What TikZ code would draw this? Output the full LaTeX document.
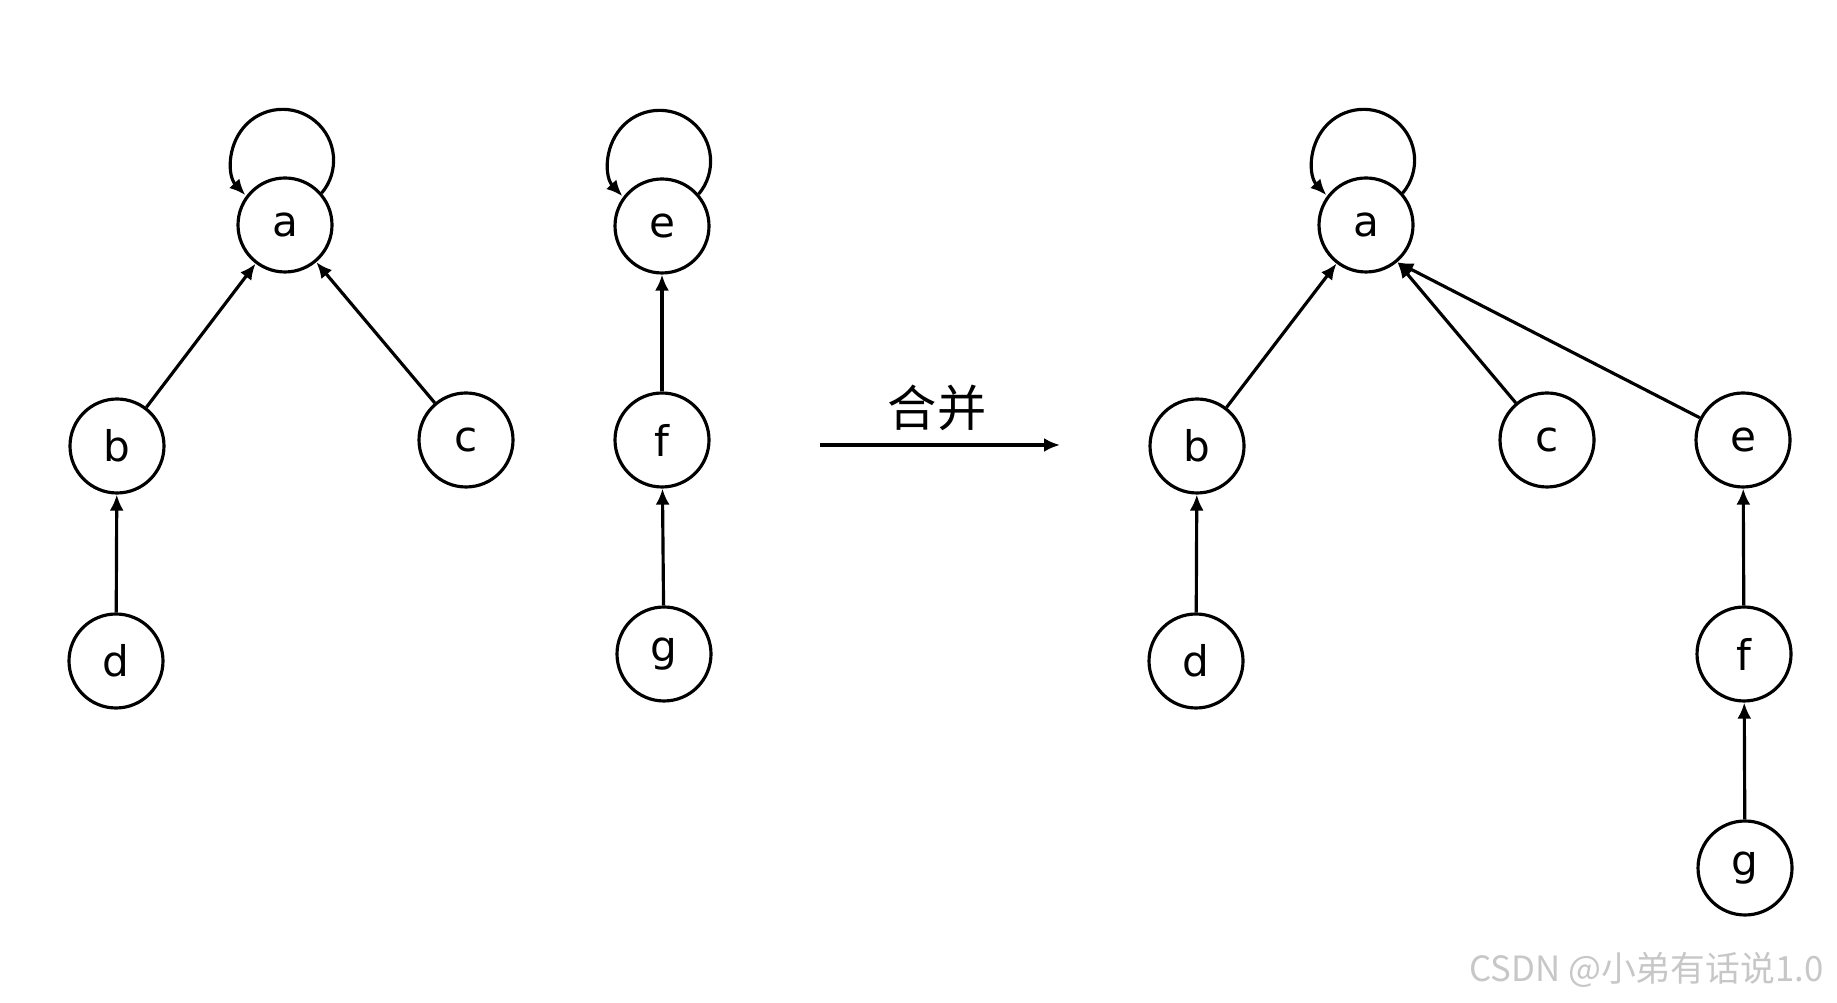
\documentclass[tikz,border=0pt]{standalone}
\usepackage{fontspec}
\setmainfont{DejaVu Sans}
\newfontfamily\cjk{Noto Sans CJK SC}
\usetikzlibrary{arrows.meta}

\tikzset{
    vert/.style = {draw, circle, line width=0.9pt, minimum size=0.94cm, inner sep=0pt, font=\fontsize{12}{14}\selectfont},
    arr/.style = {line width=0.9pt, -{Latex[length=1.6mm,width=1.4mm]}}
}

\begin{document}
\begin{tikzpicture}
    \useasboundingbox (0,0) rectangle (18.37,-10.03);

    % left: two trees
    \node[vert] (a1) at (2.85,-2.25) {a};
    \node[vert] (b1) at (1.17,-4.46) {b};
    \node[vert] (c1) at (4.66,-4.40) {c};
    \node[vert] (d1) at (1.16,-6.61) {d};
    \node[vert] (e1) at (6.62,-2.26) {e};
    \node[vert] (f1) at (6.62,-4.40) {f};
    \node[vert] (g1) at (6.64,-6.54) {g};

    \draw[arr] (a1.41) arc[start angle=-40, end angle=223, radius=0.51];
    \draw[arr] (b1) -- (a1);
    \draw[arr] (c1) -- (a1);
    \draw[arr] (d1) -- (b1);
    \draw[arr] (e1.41) arc[start angle=-40, end angle=223, radius=0.51];
    \draw[arr] (f1) -- (e1);
    \draw[arr] (g1) -- (f1);

    % merge arrow
    \coordinate (S) at (8.20,-4.45);
    \coordinate (T) at (10.60,-4.45);
    \draw[arr] (S) -- (T);
    \node[font=\cjk\fontsize{14}{16}\selectfont] (merge) at (9.37,-4.08) {合并};

    % right: merged tree
    \node[vert] (a2) at (13.66,-2.25) {a};
    \node[vert] (b2) at (11.97,-4.46) {b};
    \node[vert] (c2) at (15.47,-4.40) {c};
    \node[vert] (d2) at (11.96,-6.61) {d};
    \node[vert] (e2) at (17.43,-4.40) {e};
    \node[vert] (f2) at (17.44,-6.54) {f};
    \node[vert] (g2) at (17.45,-8.68) {g};

    \draw[arr] (a2.41) arc[start angle=-40, end angle=223, radius=0.51];
    \draw[arr] (b2) -- (a2);
    \draw[arr] (c2) -- (a2);
    \draw[arr] (d2) -- (b2);
    \draw[arr] (e2) -- (a2.-50);
    \draw[arr] (f2) -- (e2);
    \draw[arr] (g2) -- (f2);

    \node[font=\cjk\fontsize{9.9}{12}\selectfont, text=black!22, inner sep=0pt, anchor=east] (mark) at (18.24,-9.70) {CSDN @小弟有话说1.0};
\end{tikzpicture}
\end{document}
